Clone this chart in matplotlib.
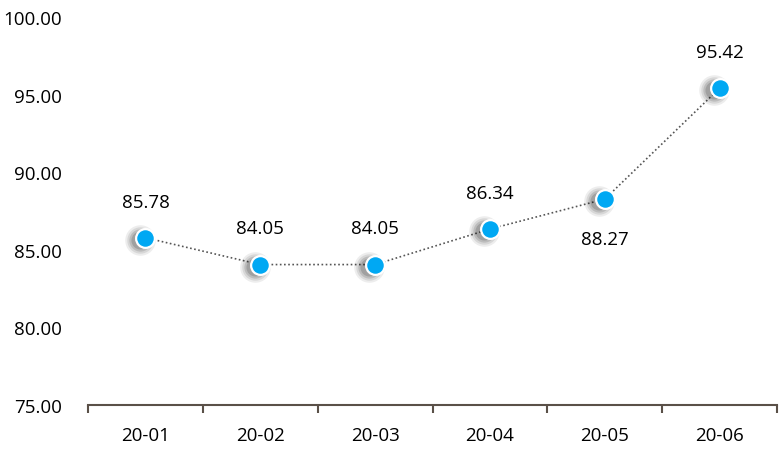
import matplotlib.pyplot as plt
import numpy as np

months = ['20-01', '20-02', '20-03', '20-04', '20-05', '20-06']
values = [85.78, 84.05, 84.05, 86.34, 88.27, 95.42]
label_below = [False, False, False, False, True, False]

plt.rcParams['font.family'] = ['Open Sans', 'DejaVu Sans']

fig = plt.figure(figsize=(7.81, 4.52), dpi=100)
ax = fig.add_axes([0.1127, 0.1018, 0.8823, 0.8582])

x = np.arange(len(months))

# dotted connecting line
ax.plot(x, values, linestyle=(0, (1, 1.5)), color='#555555', lw=1.2, zorder=2)

# soft shadow behind the markers
for s, a in [(22, 0.07), (19, 0.09), (16, 0.12), (13, 0.15)]:
    ax.plot(x - 0.05, np.array(values) - 0.15, 'o', ms=s, color='black',
            alpha=a, mec='none', zorder=3)

# markers
ax.plot(x, values, 'o', ms=13.5, mfc='#00a8f3', mec='white', mew=1.6, zorder=4)

for xi, v, below in zip(x, values, label_below):
    off = -29 if below else 26
    ax.annotate(f'{v:.2f}', (xi, v), xytext=(0, off), textcoords='offset points',
                ha='center', va='center', fontsize=13.5, color='black')

ax.set_xlim(-0.5, len(months) - 0.5)
ax.set_ylim(75, 100)
ax.set_yticks(np.arange(75, 100.1, 5))
ax.set_yticklabels([f'{t:.2f}' for t in np.arange(75, 100.1, 5)])
ax.set_xticks(x)
ax.set_xticklabels(months)
ax.set_xticks(np.arange(-0.5, len(months)), minor=True)

for side in ['top', 'right', 'left']:
    ax.spines[side].set_visible(False)
ax.spines['bottom'].set_color('#5a5048')
ax.spines['bottom'].set_linewidth(1.5)

ax.tick_params(axis='y', length=0, labelsize=13.5, pad=18.5)
ax.tick_params(axis='x', which='major', length=0, labelsize=13.5, pad=15)
ax.tick_params(axis='x', which='minor', length=6, width=1.5, color='#5a5048', direction='out')

fig.savefig('out.png', dpi=100)
